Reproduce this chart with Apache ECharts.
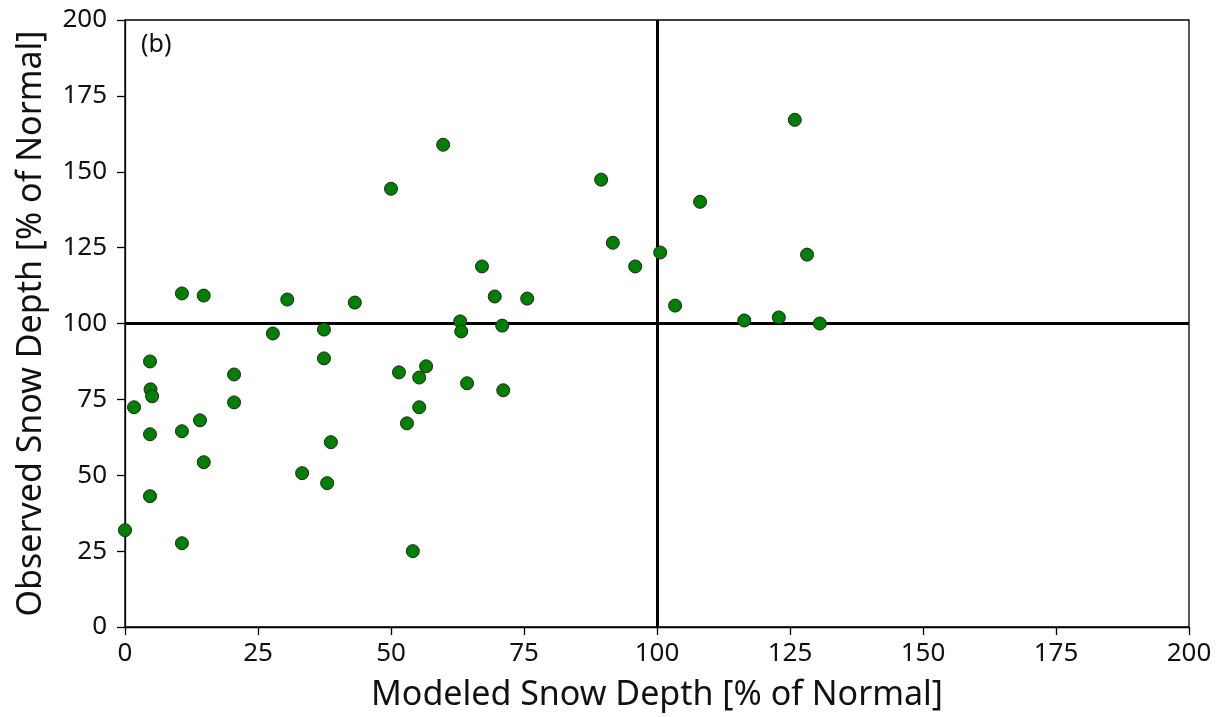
<!DOCTYPE html>
<html>
<head>
<meta charset="utf-8">
<script src="https://cdn.jsdelivr.net/npm/echarts@6/dist/echarts.min.js"></script>
<style>
  html, body { margin: 0; padding: 0; background: #fff; }
  #main { width: 1219px; height: 717px; }
</style>
</head>
<body>
<div id="main"></div>
<script>
// modeled snow depth (% of normal)
const modeled = [
  0, 1.7, 4.7, 4.8, 5.1, 4.7, 4.7, 10.7, 10.7, 10.7,
  14.8, 14.1, 14.8, 20.5, 20.5, 27.8, 30.5, 33.3, 37.4, 37.4,
  38.0, 38.7, 43.2, 50.0, 51.5, 53.0, 54.1, 55.3, 55.3, 56.6,
  59.8, 63.0, 63.2, 64.3, 67.1, 69.5, 70.9, 71.1, 75.6, 89.5,
  91.7, 95.9, 100.6, 103.4, 108.1, 116.4, 122.9, 125.9, 128.2, 130.6
];
// observed snow depth (% of normal)
const observed = [
  31.9, 72.4, 87.5, 78.3, 76.0, 63.5, 43.1, 109.9, 64.5, 27.6,
  109.2, 68.1, 54.3, 83.2, 74.0, 96.7, 107.9, 50.7, 98.0, 88.5,
  47.4, 60.9, 106.9, 144.4, 83.9, 67.1, 25.0, 82.2, 72.4, 85.9,
  158.9, 100.7, 97.4, 80.3, 118.8, 108.9, 99.3, 78.0, 108.2, 147.4,
  126.6, 118.8, 123.4, 105.9, 140.1, 101.0, 102.0, 167.1, 122.7, 100.0
];
const axisTicks = [0, 25, 50, 75, 100, 125, 150, 175, 200];
const refLine = 100;

const chartDom = document.getElementById('main');
const myChart = echarts.init(chartDom);
const font = 'Noto Sans';

const points = modeled.map((m, i) => [m, observed[i]]);

const axisBase = {
  type: 'value',
  min: axisTicks[0],
  max: axisTicks[axisTicks.length - 1],
  interval: 25,
  nameLocation: 'middle',
  nameTextStyle: { fontFamily: font, fontSize: 34, color: '#111' },
  axisLine: { show: true, onZero: false, lineStyle: { color: '#000', width: 1.3 } },
  axisTick: { show: true, inside: false, length: 8, lineStyle: { color: '#000', width: 1.3 } },
  axisLabel: { fontFamily: font, fontSize: 26, color: '#111' },
  splitLine: { show: false },
};

const option = {
  animation: false,
  backgroundColor: '#fff',
  grid: {
    left: 125,
    right: 30,
    top: 20,
    bottom: 89,
    show: true,
    borderColor: '#000',
    borderWidth: 1.3,
  },
  xAxis: Object.assign({}, axisBase, {
    name: 'Modeled Snow Depth [% of Normal]',
    nameGap: 51,
    axisLabel: Object.assign({}, axisBase.axisLabel, { margin: 14 }),
  }),
  yAxis: Object.assign({}, axisBase, {
    name: 'Observed Snow Depth [% of Normal]',
    nameGap: 77,
    axisLabel: Object.assign({}, axisBase.axisLabel, { margin: 18 }),
  }),
  graphic: [
    {
      type: 'text',
      left: 141,
      top: 32,
      style: { text: '(b)', fontFamily: font, fontSize: 25, fill: '#111' },
    },
  ],
  series: [
    {
      type: 'scatter',
      data: points,
      symbol: 'circle',
      symbolSize: 13,
      itemStyle: {
        color: '#008000',
        borderColor: '#222',
        borderWidth: 1,
        opacity: 1,
      },
      markLine: {
        silent: true,
        symbol: 'none',
        label: { show: false },
        lineStyle: { color: '#000', width: 3, type: 'solid' },
        data: [{ xAxis: refLine }, { yAxis: refLine }],
        z: 1,
      },
      z: 3,
    },
  ],
};

myChart.setOption(option);
</script>
</body>
</html>
